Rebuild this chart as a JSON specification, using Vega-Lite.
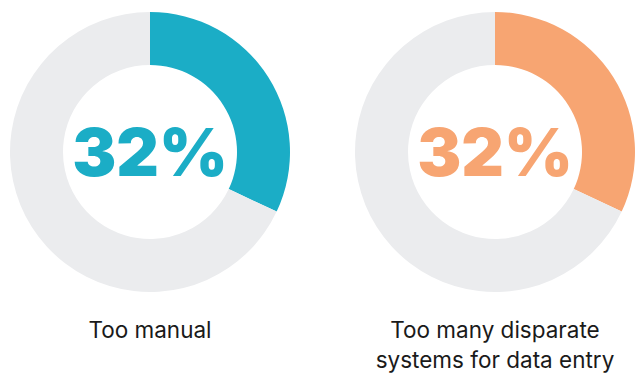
{
  "$schema": "https://vega.github.io/schema/vega-lite/v6.json",
  "padding": 0,
  "spacing": 45,
  "background": "white",
  "config": {
    "view": {"stroke": null},
    "title": {"font": "Inter", "fontSize": 22.5, "fontWeight": "normal", "color": "#1a1a1a", "orient": "bottom", "anchor": "middle", "offset": 16, "lineHeight": 30}
  },
  "datasets": {
    "d": [
      {"panel": "left", "part": "Too manual", "value": 0.32, "ord": 1},
      {"panel": "left", "part": "Other (left)", "value": 0.68, "ord": 2},
      {"panel": "right", "part": "Too many disparate systems for data entry", "value": 0.32, "ord": 1},
      {"panel": "right", "part": "Other (right)", "value": 0.68, "ord": 2}
    ]
  },
  "hconcat": [
    {
      "width": 300,
      "height": 304,
      "title": {"text": "Too manual"},
      "data": {"name": "d"},
      "transform": [{"filter": "datum.panel === 'left'"}],
      "layer": [
        {
          "mark": {"type": "arc", "outerRadius": 140, "innerRadius": 87},
          "encoding": {
            "theta": {"field": "value", "type": "quantitative", "stack": true},
            "order": {"field": "ord", "type": "quantitative"},
            "color": {"field": "part", "type": "nominal", "legend": null,
              "scale": {"domain": ["Too manual", "Other (left)", "Too many disparate systems for data entry", "Other (right)"], "range": ["#1BADC6", "#EBECEE", "#F7A572", "#EBECEE"]}}
          }
        },
        {
          "transform": [{"filter": "datum.ord === 1"}],
          "mark": {"type": "text", "font": "Inter", "fontSize": 66, "fontWeight": 900, "baseline": "middle", "align": "center", "dy": 4},
          "encoding": {
            "text": {"field": "value", "type": "quantitative", "format": ".0%"},
            "color": {"field": "part", "type": "nominal", "legend": null}
          }
        }
      ]
    },
    {
      "width": 300,
      "height": 304,
      "title": {"text": ["Too many disparate", "systems for data entry"]},
      "data": {"name": "d"},
      "transform": [{"filter": "datum.panel === 'right'"}],
      "layer": [
        {
          "mark": {"type": "arc", "outerRadius": 140, "innerRadius": 87},
          "encoding": {
            "theta": {"field": "value", "type": "quantitative", "stack": true},
            "order": {"field": "ord", "type": "quantitative"},
            "color": {"field": "part", "type": "nominal", "legend": null}
          }
        },
        {
          "transform": [{"filter": "datum.ord === 1"}],
          "mark": {"type": "text", "font": "Inter", "fontSize": 66, "fontWeight": 900, "baseline": "middle", "align": "center", "dy": 4},
          "encoding": {
            "text": {"field": "value", "type": "quantitative", "format": ".0%"},
            "color": {"field": "part", "type": "nominal", "legend": null}
          }
        }
      ]
    }
  ]
}
